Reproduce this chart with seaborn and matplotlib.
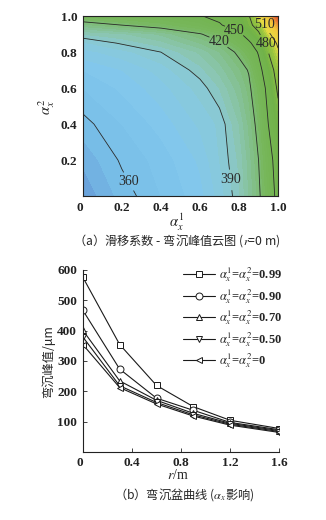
import numpy as np
import pandas as pd
import matplotlib
matplotlib.use("Agg")
import matplotlib.pyplot as plt
from matplotlib.colors import LinearSegmentedColormap
from matplotlib.font_manager import FontProperties
import seaborn as sns

# ---- (a) slip coefficients vs. peak deflection (r = 0 m) ----
alpha_1 = [0, 0.2, 0.4, 0.6, 0.7, 0.8, 0.85, 0.9, 0.95, 1.0]
alpha_2 = [0, 0.2, 0.4, 0.6, 0.7, 0.8, 0.85, 0.9, 0.95, 1.0]
# peak deflection (um); one row per alpha_2 value, columns follow alpha_1
peak_deflection = [
    [346, 357, 365, 373, 382, 394, 405, 417, 435, 458],
    [351, 361, 367, 376, 385, 396, 407, 420, 440, 462],
    [358, 365, 372, 381, 386, 400, 411, 425, 450, 470],
    [365, 371, 378, 387, 395, 408, 417, 432, 458, 484],
    [370, 375, 382, 393, 402, 414, 421, 442, 465, 492],
    [378, 383, 390, 401, 410, 423, 435, 452, 480, 506],
    [384, 391, 398, 410, 418, 435, 446, 462, 487, 515],
    [395, 399, 406, 419, 428, 446, 460, 476, 505, 528],
    [413, 420, 427, 437, 448, 462, 474, 490, 522, 548],
    [432, 436, 440, 449, 455, 466, 478, 510, 535, 580],
]
line_levels = [360, 390, 420, 450, 480, 510]

# ---- (b) deflection basin curves ----
radius = [0, 0.3, 0.6, 0.9, 1.2, 1.6]
case_names = ["0.99", "0.90", "0.70", "0.50", "0"]
defl_099 = [576, 354, 219, 149, 104, 77]
defl_090 = [467, 273, 177, 137, 97, 73]
defl_070 = [401, 234, 170, 127, 94, 70]
defl_050 = [379, 218, 163, 122, 91, 67]
defl_000 = [354, 212, 158, 118, 88, 64]
case_markers = ["s", "o", "^", "v", "<"]

sns.set_style("ticks")
plt.rcParams["font.family"] = ["Liberation Serif", "Noto Sans CJK SC", "DejaVu Sans"]
plt.rcParams["mathtext.fontset"] = "stix"
plt.rcParams["axes.edgecolor"] = "#222222"
plt.rcParams["axes.linewidth"] = 0.8

CJK = ["Noto Sans CJK SC", "DejaVu Sans"]
tick_font = FontProperties(family="Liberation Serif", weight="bold", size=9.5)

fig = plt.figure(figsize=(3.26, 5.2), dpi=100)
ax1 = fig.add_axes([0.254, 0.623, 0.599, 0.346])
ax2 = fig.add_axes([0.254, 0.131, 0.603, 0.350])

# contour map
cmap = LinearSegmentedColormap.from_list(
    "defl",
    [
        (0.000, "#5f8ed0"),
        (0.041, "#70ade0"),
        (0.073, "#78bee8"),
        (0.131, "#82c7ec"),
        (0.184, "#89c9da"),
        (0.237, "#8bc6b2"),
        (0.294, "#82bf88"),
        (0.367, "#77b75c"),
        (0.531, "#71b248"),
        (0.633, "#9cc63e"),
        (0.694, "#e6dc44"),
        (0.796, "#f2c63a"),
        (0.898, "#e77a34"),
        (1.000, "#d8482a"),
    ],
)
A1, A2 = np.meshgrid(alpha_1, alpha_2)
Z = np.array(peak_deflection, dtype=float)
ax1.contourf(A1, A2, Z, levels=np.linspace(340, 585, 50), cmap=cmap)
cs = ax1.contour(A1, A2, Z, levels=line_levels, colors="#2a2a2a", linewidths=0.6)
level_texts = ax1.clabel(
    cs, fmt="%d", fontsize=10, inline=True, inline_spacing=0,
    manual=[(0.25, 0.09), (0.76, 0.09), (0.70, 0.867),
            (0.78, 0.93), (0.935, 0.846), (0.93, 0.955)],
)
for t in level_texts:
    t.set_rotation(0)
ax1.set_xlim(0, 1)
ax1.set_ylim(0, 1)
ax1.set_xticks([0, 0.2, 0.4, 0.6, 0.8, 1.0])
ax1.set_xticklabels(["0", "0.2", "0.4", "0.6", "0.8", "1.0"], fontproperties=tick_font)
ax1.set_yticks([0.2, 0.4, 0.6, 0.8, 1.0])
ax1.set_yticklabels(["0.2", "0.4", "0.6", "0.8", "1.0"], fontproperties=tick_font)
ax1.get_xticklabels()[0].set_horizontalalignment("right")
ax1.tick_params(direction="in", length=3, width=0.6, pad=4, colors="#222222")

# deflection basin curves
df = pd.DataFrame({
    "r": radius * 5,
    "defl": defl_099 + defl_090 + defl_070 + defl_050 + defl_000,
    "case": sum([[c] * len(radius) for c in case_names], []),
})
sns.lineplot(
    data=df, x="r", y="defl", hue="case", style="case",
    hue_order=case_names, style_order=case_names,
    palette=["#1a1a1a"] * 5, markers=case_markers, dashes=False,
    markersize=5, markerfacecolor="white", markeredgecolor="#1a1a1a",
    markeredgewidth=0.7, linewidth=0.8, legend=False, sort=False, ax=ax2,
)
ax2.set_xlim(0, 1.6)
ax2.set_ylim(0, 600)
ax2.set_xticks([0, 0.4, 0.8, 1.2, 1.6])
ax2.set_xticklabels(["0", "0.4", "0.8", "1.2", "1.6"], fontproperties=tick_font)
ax2.set_yticks([100, 200, 300, 400, 500, 600])
ax2.set_yticklabels(["100", "200", "300", "400", "500", "600"], fontproperties=tick_font)
ax2.get_xticklabels()[0].set_horizontalalignment("right")
ax2.tick_params(direction="in", length=3, width=0.6, pad=4, colors="#222222")
ax2.set_xlabel("")
ax2.set_ylabel("")
sns.despine(ax=ax2)

handles = ax2.get_lines()[:5]
labels = [rf"$\alpha_x^1$=$\alpha_x^2$={c}" for c in case_names]
ax2.legend(
    handles, labels, loc="upper left", bbox_to_anchor=(0.541, 0.501),
    bbox_transform=fig.transFigure, frameon=False, borderpad=0,
    handlelength=2.6, handletextpad=0.3, labelspacing=0.22,
    prop=FontProperties(family="Liberation Serif", weight="bold", size=9),
)

# axis titles and captions
fig.text(0.143, 0.794, r"$\alpha_x^2$", rotation=90, ha="center", va="center", fontsize=10.5)
fig.text(0.540, 0.573, r"$\alpha_x^1$", ha="center", va="center", fontsize=10.5)
fig.text(0.541, 0.538, "（a）滑移系数 - 弯沉峰值云图 ($r$=0 m)",
         ha="center", va="center", fontsize=8.8, family=CJK)
fig.text(0.147, 0.304, "弯沉峰值/μm", rotation=90, ha="center", va="center",
         fontsize=8.8, family=CJK)
fig.text(0.546, 0.0865, r"$r$/m", ha="center", va="center", fontsize=10)
fig.text(0.566, 0.048, "（b）弯沉盆曲线 ($\\alpha_x$影响)",
         ha="center", va="center", fontsize=8.8, family=CJK)

fig.savefig("out.png", dpi=100)
